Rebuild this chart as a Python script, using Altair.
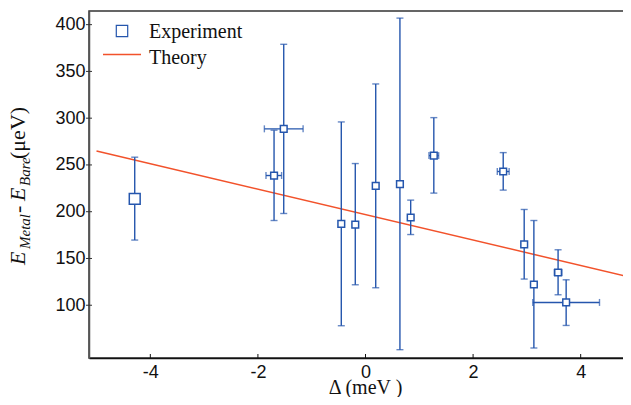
import altair as alt
import pandas as pd

# ---- data ----
exp_x = [-1.70, -1.52, -0.45, -0.19, 0.19, 0.64, 0.84, 1.27, 2.56, 2.95, 3.13, 3.58, 3.73]
exp_y = [238.7, 288.6, 187.1, 186.3, 227.7, 229.5, 193.8, 260.0, 243.0, 165.0, 122.2, 135.0, 103.0]
exp_ylo = [190.6, 198.1, 78.1, 121.9, 118.7, 52.5, 175.6, 219.9, 223.1, 128.0, 54.3, 111.2, 78.4]
exp_yhi = [287.2, 379.0, 296.0, 251.5, 336.6, 407.0, 212.4, 300.6, 263.2, 202.4, 190.6, 159.3, 127.2]

# points that also carry a horizontal error bar
hx_y = [238.7, 288.6, 260.0, 243.0, 135.0, 103.0]
hx_lo = [-1.85, -1.88, 1.18, 2.45, 3.51, 3.11]
hx_hi = [-1.56, -1.16, 1.36, 2.67, 3.65, 4.35]

# reference measurement (larger marker)
ref_x = [-4.29]
ref_y = [213.8]
ref_ylo = [169.7]
ref_yhi = [258.3]

theory_x = [-5.0, 5.14]
theory_y = [265.0, 127.0]

x_ticks = [-4, -2, 0, 2, 4]
y_ticks = [100, 150, 200, 250, 300, 350, 400]
legend_labels = ["Experiment", "Theory"]
x_title = "Δ (meV )"

# ---- layout ----
W, H = 553, 347
XDOM = [-5.14, 5.14]
YDOM = [43.6, 414.6]
BLUE = "#2556ad"
ORANGE = "#f2522b"
SERIF = "Liberation Serif"
SANS = "Liberation Sans"

xs = alt.Scale(domain=XDOM, nice=False, zero=False)
ys = alt.Scale(domain=YDOM, nice=False, zero=False)
ax_x = alt.Axis(values=x_ticks, title=None, grid=False, ticks=False, tickSize=0, labelPadding=5,
                labelExpr="replace(datum.label, '\u2212', '-')",
                labelFontSize=18, labelFont=SANS, labelColor="#111", domainColor="#111", domainWidth=1.5)
ax_y = alt.Axis(values=y_ticks, title=None, grid=False, ticks=False, tickSize=0, labelPadding=4,
                labelFontSize=18, labelFont=SANS, labelColor="#111", domainColor="#555", domainWidth=1.5)


def X(f):
    return alt.X(f, type="quantitative", scale=xs, axis=ax_x)


def Y(f):
    return alt.Y(f, type="quantitative", scale=ys, axis=ax_y)


exp = pd.DataFrame({"x": exp_x, "y": exp_y, "lo": exp_ylo, "hi": exp_yhi})
ref = pd.DataFrame({"x": ref_x, "y": ref_y, "lo": ref_ylo, "hi": ref_yhi})
allv = pd.concat([exp, ref])
hx = pd.DataFrame({"y": hx_y, "lo": hx_lo, "hi": hx_hi})
theory = pd.DataFrame({"x": theory_x, "y": theory_y})

line = alt.Chart(theory).mark_line(color=ORANGE, strokeWidth=1.5, clip=True).encode(x=X("x"), y=Y("y"))

vbar = alt.Chart(allv).mark_rule(color=BLUE, strokeWidth=1.4).encode(x=X("x"), y=Y("lo"), y2="hi")
vcap_lo = alt.Chart(allv).mark_tick(orient="horizontal", color=BLUE, size=7, thickness=1.4).encode(x=X("x"), y=Y("lo"))
vcap_hi = alt.Chart(allv).mark_tick(orient="horizontal", color=BLUE, size=7, thickness=1.4).encode(x=X("x"), y=Y("hi"))

hbar = alt.Chart(hx).mark_rule(color=BLUE, strokeWidth=1.4).encode(x=X("lo"), x2="hi", y=Y("y"))
hcap_lo = alt.Chart(hx).mark_tick(orient="vertical", color=BLUE, size=7, thickness=1.4).encode(x=X("lo"), y=Y("y"))
hcap_hi = alt.Chart(hx).mark_tick(orient="vertical", color=BLUE, size=7, thickness=1.4).encode(x=X("hi"), y=Y("y"))

pts = alt.Chart(exp).mark_point(shape="square", filled=True, fill="white", stroke=BLUE,
                                strokeWidth=1.5, size=45, opacity=1).encode(x=X("x"), y=Y("y"))
refpt = alt.Chart(ref).mark_point(shape="square", filled=True, fill="white", stroke=BLUE,
                                  strokeWidth=1.5, size=118, opacity=1).encode(x=X("x"), y=Y("y"))

# axis ticks: x ticks point inward, y ticks cross the axis
xt = alt.Chart(pd.DataFrame({"v": x_ticks})).mark_rule(color="#111", strokeWidth=1).encode(
    x=X("v"), y=alt.value(H), y2=alt.value(H - 4))
yt = alt.Chart(pd.DataFrame({"v": y_ticks})).mark_rule(color="#333", strokeWidth=1).encode(
    y=Y("v"), x=alt.value(-3), x2=alt.value(3))

# x-axis title, centred on the middle of the axis
xtitle = alt.Chart(pd.DataFrame({"t": [x_title]})).mark_text(
    align="center", baseline="alphabetic", font=SERIF, fontSize=20, color="#111").encode(
    x=alt.value(W / 2), y=alt.value(H + 36), text="t:N")

# legend
leg_sym = alt.Chart(pd.DataFrame({"t": [legend_labels[0]]})).mark_point(
    shape="square", filled=True, fill="white", stroke=BLUE, strokeWidth=1.2, size=130, opacity=1
).encode(x=alt.value(33), y=alt.value(20))
leg_line = alt.Chart(pd.DataFrame({"t": [legend_labels[1]]})).mark_rule(
    color=ORANGE, strokeWidth=1.5).encode(x=alt.value(14), x2=alt.value(52), y=alt.value(43.5))
leg_t1 = alt.Chart(pd.DataFrame({"t": [legend_labels[0]]})).mark_text(
    align="left", baseline="alphabetic", font=SERIF, fontSize=20, color="#111").encode(
    x=alt.value(60), y=alt.value(26.5), text="t:N")
leg_t2 = alt.Chart(pd.DataFrame({"t": [legend_labels[1]]})).mark_text(
    align="left", baseline="alphabetic", font=SERIF, fontSize=20, color="#111").encode(
    x=alt.value(60), y=alt.value(52.5), text="t:N")

# y-axis title with subscripts (rotated pieces)
title_pieces = [
    ("E", 22, "italic", -64, 254),
    ("Metal", 15, "italic", -59.5, 238),
    (" - ", 22, "normal", -64, 202),
    ("E", 22, "italic", -64, 190),
    ("Bare", 15, "italic", -59.5, 175),
    (" (μeV)", 22, "normal", -64, 148),
]
tlayers = []
for txt, fs, st, px, py in title_pieces:
    tlayers.append(alt.Chart(pd.DataFrame({"t": [txt]})).mark_text(
        angle=270, align="left", baseline="alphabetic", font=SERIF, fontSize=fs, fontStyle=st,
        color="#111").encode(x=alt.value(px), y=alt.value(py), text="t:N"))

chart = alt.layer(line, vbar, vcap_lo, vcap_hi, hbar, hcap_lo, hcap_hi, refpt, pts, xt, yt,
                  xtitle, leg_sym, leg_line, leg_t1, leg_t2, *tlayers).properties(
    width=W, height=H,
    autosize=alt.AutoSizeParams(type="none"),
    padding={"left": 81, "top": 3, "right": -19, "bottom": 39},
    background="white",
).configure_view(stroke="#333", strokeWidth=1.5)

chart.save("out.html", embed_options={"renderer": "svg", "actions": False})
